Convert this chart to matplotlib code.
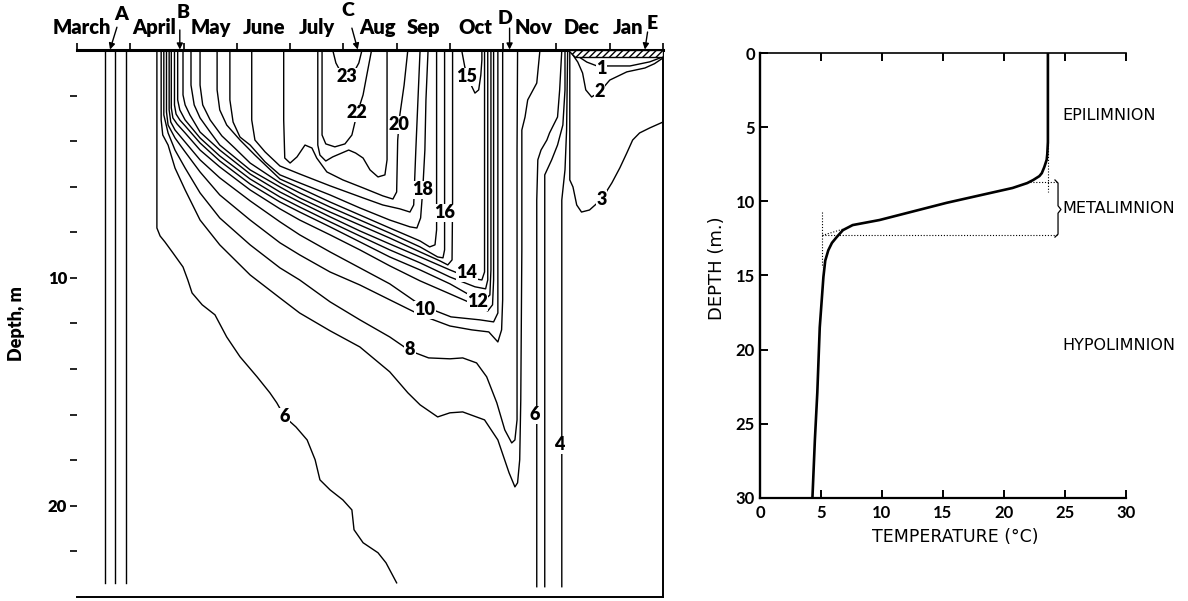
import matplotlib
matplotlib.use("Agg")
import matplotlib.pyplot as plt

plt.rcParams['font.family'] = ['Lato', 'DejaVu Sans']

# ---------------- left panel: isotherms (months after 1 March, depth m) ----------------
month_names = ["March", "April", "May", "June", "July", "Aug", "Sep", "Oct", "Nov", "Dec", "Jan"]
month_label_pos = [0.09, 1.44, 2.51, 3.51, 4.50, 5.65, 6.51, 7.47, 8.57, 9.47, 10.34]

# spring overturn, vertical isotherms
spring_months = [0.53, 0.71, 0.92]
spring_bottom = 23.4

iso6_m = [1.50, 1.50, 1.56, 1.65, 1.80, 1.99, 2.08, 2.16, 2.35, 2.59, 2.81, 3.06, 3.38, 3.62,
          3.75, 3.90, 4.11, 4.32, 4.47, 4.56, 4.75, 4.99, 5.16, 5.20, 5.37, 5.65, 5.80, 6.00]
iso6_d = [0, 7.81, 8.16, 8.42, 8.90, 9.52, 10.09, 10.66, 11.18, 11.62, 12.59, 13.46, 14.34, 15.04,
          15.48, 16.10, 16.54, 17.11, 17.98, 18.86, 19.30, 19.74, 20.18, 21.05, 21.62, 22.06, 22.50, 23.38]

iso7_m = [1.58, 1.58, 1.61, 1.71, 1.84, 2.03, 2.31, 2.68, 3.25, 3.81, 4.18, 4.75, 5.31, 5.87, 6.21, 6.44,
          6.77, 7.00, 7.24, 7.65, 7.90, 8.11, 8.22, 8.27, 8.31, 8.33, 8.35, 8.35, 8.41, 8.46, 8.63, 8.69]
iso7_d = [0, 3.07, 3.73, 4.17, 5.18, 6.14, 7.46, 8.55, 9.87, 10.88, 11.54, 12.32, 13.03, 14.12, 15.04, 15.57,
          16.10, 15.92, 15.88, 16.23, 17.11, 18.55, 19.17, 18.99, 17.98, 15.35, 8.77, 3.51, 2.94, 2.19, 1.45, 0]

iso8_m = [1.63, 1.63, 1.71, 1.84, 2.03, 2.31, 2.68, 3.25, 3.81, 4.18, 4.75, 5.31, 5.87, 6.25,
          6.60, 7.00, 7.24, 7.50, 7.69, 7.88, 8.03, 8.16, 8.22, 8.26, 8.26, 8.26, 8.27]
iso8_d = [0, 2.85, 3.64, 4.39, 5.18, 6.27, 7.37, 8.55, 9.56, 10.09, 11.05, 11.84, 12.59, 13.20,
          13.51, 13.55, 13.51, 13.73, 14.34, 15.48, 16.67, 17.24, 17.11, 16.23, 10.96, 4.39, 0]

iso9_m = [1.68, 1.68, 1.71, 1.84, 2.03, 2.31, 2.68, 3.25, 3.81, 4.18, 4.75, 5.31, 5.87, 6.44,
          7.00, 7.41, 7.73, 7.90, 7.97, 7.99, 7.99, 7.99]
iso9_d = [0, 2.72, 3.29, 3.86, 4.47, 5.35, 6.36, 7.46, 8.46, 8.99, 9.74, 10.31, 10.96, 11.62,
          12.11, 12.28, 12.37, 12.81, 12.28, 10.96, 6.58, 0]

iso10_m = [1.73, 1.73, 1.76, 1.84, 2.03, 2.31, 2.68, 3.25, 3.81, 4.18, 4.75, 5.31, 5.87, 6.44,
           7.02, 7.56, 7.82, 7.90, 7.90, 7.90]
iso10_d = [0, 2.63, 3.16, 3.51, 4.04, 4.82, 5.61, 6.62, 7.54, 8.11, 8.86, 9.56, 10.26, 11.18,
           11.71, 11.84, 11.93, 11.54, 8.77, 0]

iso11_m = [1.77, 1.77, 1.80, 1.88, 2.03, 2.31, 2.68, 3.25, 3.81, 4.18, 4.75, 5.31, 5.87, 6.44,
           7.00, 7.47, 7.71, 7.80, 7.82, 7.82]
iso11_d = [0, 2.54, 2.98, 3.25, 3.64, 4.39, 5.13, 6.14, 6.97, 7.46, 8.11, 8.77, 9.47, 10.13,
           10.70, 11.18, 11.45, 11.18, 10.09, 0]

iso12_m = [1.83, 1.83, 1.86, 1.93, 2.03, 2.31, 2.68, 3.25, 3.81, 4.18, 4.75, 5.31, 5.87, 6.44,
           7.00, 7.37, 7.65, 7.75, 7.77, 7.77]
iso12_d = [0, 2.41, 2.81, 3.07, 3.33, 4.08, 4.87, 5.88, 6.67, 7.11, 7.76, 8.42, 9.08, 9.65,
           10.26, 10.75, 10.96, 10.75, 9.65, 0]

iso13_m = [1.89, 1.89, 1.93, 2.03, 2.31, 2.68, 3.25, 3.81, 4.18, 4.75, 5.31, 5.87, 6.44, 7.00,
           7.47, 7.67, 7.71, 7.71]
iso13_d = [0, 2.19, 2.63, 3.07, 3.86, 4.65, 5.66, 6.45, 6.89, 7.54, 8.16, 8.77, 9.34, 9.96,
           10.39, 10.48, 10.09, 0]

iso14_m = [1.99, 1.99, 2.03, 2.12, 2.31, 2.68, 3.25, 3.81, 4.18, 4.75, 5.31, 5.87, 6.44, 7.00,
           7.37, 7.60, 7.65, 7.65]
iso14_d = [0, 1.97, 2.41, 2.85, 3.60, 4.39, 5.44, 6.23, 6.67, 7.32, 7.94, 8.51, 9.08, 9.65,
           10.0, 10.09, 9.74, 0]

iso15_m = [2.14, 2.14, 2.20, 2.31, 2.50, 2.68, 3.25, 3.81, 4.18, 4.75, 5.31, 5.87, 6.44, 6.81,
           6.96, 7.04, 7.05, 7.05]
iso15_d = [0, 1.54, 2.41, 2.98, 3.60, 4.17, 5.26, 6.01, 6.49, 7.11, 7.68, 8.25, 8.86, 9.25,
           9.43, 9.21, 6.58, 0]

iso16_m = [2.31, 2.31, 2.36, 2.50, 2.72, 2.96, 3.25, 3.81, 4.18, 4.75, 5.31, 5.87, 6.44, 6.77,
           6.87, 6.90, 6.90]
iso16_d = [0, 1.54, 2.41, 3.07, 3.77, 4.30, 4.96, 5.83, 6.27, 6.89, 7.46, 8.03, 8.64, 9.08,
           9.12, 8.77, 0]

iso17_m = [2.63, 2.63, 2.68, 2.81, 3.06, 3.34, 3.81, 4.18, 4.75, 5.31, 5.87, 6.44, 6.62, 6.72, 6.75, 6.75]
iso17_d = [0, 1.75, 2.63, 3.29, 3.95, 4.61, 5.66, 6.05, 6.67, 7.24, 7.81, 8.38, 8.64, 8.55, 7.89, 0]

iso18_m = [2.87, 2.87, 2.93, 3.06, 3.25, 3.53, 3.81, 4.18, 4.75, 5.31, 5.87, 6.25, 6.38, 6.45,
           6.49, 6.53, 6.55, 6.59]
iso18_d = [0, 2.19, 3.16, 3.82, 4.17, 4.91, 5.48, 5.83, 6.36, 6.93, 7.46, 7.76, 7.81, 7.37,
           6.14, 4.39, 2.19, 0]

iso19_m = [3.28, 3.28, 3.34, 3.53, 3.81, 4.18, 4.75, 5.37, 5.74, 6.06, 6.25, 6.32, 6.36, 6.40, 6.44]
iso19_d = [0, 3.07, 3.95, 4.47, 5.09, 5.44, 5.96, 6.49, 6.80, 6.97, 7.11, 6.80, 4.39, 2.19, 0]

iso20_m = [3.88, 3.88, 3.90, 4.00, 4.13, 4.28, 4.41, 4.50, 4.69, 4.99, 5.37, 5.74, 5.93, 6.00,
           6.02, 6.06, 6.14, 6.21]
iso20_d = [0, 3.07, 4.74, 4.96, 4.69, 4.17, 4.30, 4.74, 5.35, 5.70, 6.05, 6.40, 6.54, 6.23,
           3.95, 2.85, 1.54, 0]

iso21_m = [4.52, 4.52, 4.56, 4.67, 4.80, 4.97, 5.10, 5.23, 5.37, 5.50, 5.65, 5.78, 5.82, 5.82]
iso21_d = [0, 4.17, 4.61, 4.87, 4.69, 4.52, 4.39, 4.52, 4.74, 5.26, 5.57, 5.48, 4.82, 0]

iso22_m = [4.60, 4.60, 4.67, 4.84, 5.03, 5.16, 5.25, 5.37, 5.44, 5.53]
iso22_d = [0, 3.73, 4.12, 4.25, 4.12, 3.73, 2.85, 1.97, 1.10, 0]

iso23_m = [4.80, 4.86, 4.95, 5.07, 5.20, 5.29, 5.35]
iso23_d = [0, 0.57, 0.96, 1.14, 0.96, 0.57, 0]

patch15_m = [7.22, 7.28, 7.37, 7.47, 7.54, 7.58, 7.60, 7.60]
patch15_d = [0, 0.75, 1.40, 1.89, 1.75, 1.10, 0.44, 0]

# autumn overturn
fall6_m = [8.63, 8.63, 8.65, 8.71, 8.82, 8.87, 9.02, 9.06, 9.10]
fall6_d = [23.55, 6.58, 4.82, 4.39, 3.95, 3.64, 2.94, 1.75, 0]
fall5_m = [8.78, 8.78, 8.91, 9.02, 9.12, 9.16, 9.16]
fall5_d = [23.55, 5.48, 4.82, 4.17, 3.29, 1.75, 0]
fall4_m = [9.10, 9.10, 9.16, 9.19, 9.21]
fall4_d = [23.55, 6.58, 5.26, 3.51, 0]

# winter
iso3_m = [9.25, 9.25, 9.31, 9.38, 9.47, 9.62, 9.85, 10.04, 10.19, 10.32, 10.43, 10.56, 10.75, 11.0]
iso3_d = [0, 5.70, 6.01, 6.80, 7.11, 7.02, 6.54, 5.83, 5.17, 4.52, 3.95, 3.64, 3.42, 3.16]
iso2_m = [9.27, 9.40, 9.49, 9.55, 9.66, 9.81, 10.0, 10.32, 10.66, 10.84, 11.0]
iso2_d = [0.09, 0.53, 1.01, 1.75, 2.06, 1.84, 1.32, 0.96, 0.79, 0.60, 0.35]
iso1_m = [9.31, 9.57, 9.76, 10.0, 10.38, 10.75, 11.0]
iso1_d = [0.13, 0.53, 0.70, 0.70, 0.70, 0.52, 0.30]

ice_m = [9.22, 11.0, 11.0, 9.35]
ice_d = [0, 0, 0.30, 0.30]

label_text = ["23", "22", "20", "18", "16", "15", "14", "12", "10", "8", "6", "6", "4", "3", "2", "1"]
label_m = [5.07, 5.25, 6.04, 6.49, 6.90, 7.32, 7.32, 7.52, 6.53, 6.25, 3.90, 8.59, 9.06, 9.85, 9.81, 9.85]
label_d = [1.18, 2.76, 3.29, 6.14, 7.15, 1.18, 9.78, 11.05, 11.40, 13.16, 16.10, 16.01, 17.32, 6.54, 1.84, 0.79]

marker_names = ["A", "B", "C", "D", "E"]
marker_head = [0.62, 1.93, 5.27, 8.12, 10.66]

# ---------------- right panel: temperature profile ----------------
profile_temp = [23.6, 23.6, 23.55, 23.5, 23.3, 23.1, 22.9, 22.4, 21.9, 20.7, 15.3, 9.8, 7.6,
                6.8, 6.3, 5.9, 5.6, 5.35, 5.2, 4.9, 4.7, 4.5, 4.3]
profile_depth = [0, 6.0, 6.8, 7.2, 7.7, 8.1, 8.3, 8.56, 8.77, 9.1, 10.1, 11.26, 11.6,
                 11.94, 12.4, 12.8, 13.3, 14.0, 15.1, 18.5, 22.9, 26.1, 30]
layer_names = ["EPILIMNION", "METALIMNION", "HYPOLIMNION"]
layer_depth = [4.2, 10.45, 19.7]

fig = plt.figure(figsize=(11.88, 6.01), dpi=100)

# ---------- left ----------
ax = fig.add_axes([0.0648, 0.0067, 0.4933, 0.9101])
ax.set_xlim(0, 11)
ax.set_ylim(24, 0)

lw = 1.0
for m in spring_months:
    ax.plot([m, m], [0, spring_bottom], color='k', lw=lw)

isotherms = [(iso6_m, iso6_d), (iso7_m, iso7_d), (iso8_m, iso8_d), (iso9_m, iso9_d),
             (iso10_m, iso10_d), (iso11_m, iso11_d), (iso12_m, iso12_d), (iso13_m, iso13_d),
             (iso14_m, iso14_d), (iso15_m, iso15_d), (iso16_m, iso16_d), (iso17_m, iso17_d),
             (iso18_m, iso18_d), (iso19_m, iso19_d), (iso20_m, iso20_d), (iso21_m, iso21_d),
             (iso22_m, iso22_d), (iso23_m, iso23_d), (patch15_m, patch15_d),
             (fall6_m, fall6_d), (fall5_m, fall5_d), (fall4_m, fall4_d),
             (iso3_m, iso3_d), (iso2_m, iso2_d), (iso1_m, iso1_d)]
for xs, ys in isotherms:
    ax.plot(xs, ys, color='k', lw=lw, solid_joinstyle='round')

plt.rcParams['hatch.linewidth'] = 1.0
ax.fill(ice_m, ice_d, facecolor='white', edgecolor='k', hatch='/////', lw=1.0, zorder=3)

for t, xm, yd in zip(label_text, label_m, label_d):
    ax.text(xm, yd, t, ha='center', va='center', fontsize=13, fontweight='heavy', zorder=4,
            bbox=dict(facecolor='white', edgecolor='none', pad=0.3))

# month labels and markers above the surface line
for name, xm in zip(month_names, month_label_pos):
    ax.text(xm, -0.72, name, ha='center', va='baseline', fontsize=14.5, fontweight='heavy')

tail_dx = [0.13, 0.0, -0.11, 0.0, 0.05]
tail_y = [-1.0, -0.88, -0.96, -0.96, -0.79]
letter_dx = [0.21, 0.06, -0.19, -0.09, 0.13]
letter_y = [-1.54, -1.64, -1.75, -1.38, -1.16]
for i, name in enumerate(marker_names):
    h = marker_head[i]
    ax.annotate('', xy=(h, -0.02), xytext=(h + tail_dx[i], tail_y[i]), annotation_clip=False,
                arrowprops=dict(arrowstyle='-|>', color='k', lw=1.0, mutation_scale=9,
                                shrinkA=0, shrinkB=0))
    ax.text(h + letter_dx[i], letter_y[i], name, ha='center', va='center', fontsize=14,
            fontweight='heavy')

ax.spines['left'].set_visible(False)
ax.spines['top'].set_linewidth(2.2)
ax.spines['right'].set_linewidth(1.4)
ax.spines['bottom'].set_linewidth(1.4)
ax.set_xticks(range(12))
ax.tick_params(axis='x', top=True, bottom=False, labeltop=False, labelbottom=False,
               direction='out', length=5, width=1.2)
ax.set_yticks(range(2, 24, 2))
ax.set_yticklabels(['10' if v == 10 else '20' if v == 20 else '' for v in range(2, 24, 2)])
ax.tick_params(axis='y', direction='out', length=5, width=1.2, labelsize=12, pad=2)
for lab in ax.get_yticklabels():
    lab.set_fontweight('heavy')
ax.text(-0.103, 0.5, 'Depth, m', transform=ax.transAxes, rotation=90, ha='center',
        va='center', fontsize=13, fontweight='heavy')

# ---------- right ----------
ax2 = fig.add_axes([0.6397, 0.1714, 0.3081, 0.7404])
ax2.set_xlim(0, 30)
ax2.set_ylim(30, 0)
ax2.plot(profile_temp, profile_depth, color='k', lw=1.9, solid_joinstyle='round')

dot = dict(color='k', lw=0.8, linestyle=(0, (1, 1.6)))
ax2.plot([23.6, 23.6], [6.0, 9.35], **dot)
ax2.plot([22.1, 24.35], [8.7, 8.7], **dot)
ax2.plot([5.1, 24.35], [12.3, 12.3], **dot)
ax2.plot([5.1, 5.1], [10.75, 14.45], **dot)
ax2.plot([5.1, 7.1], [12.3, 11.8], **dot)

ax2.plot([24.18, 24.43, 24.43, 24.67, 24.43, 24.43, 24.18],
         [8.56, 8.77, 10.3, 10.55, 10.8, 12.21, 12.41], color='k', lw=0.9)

for name, yd in zip(layer_names, layer_depth):
    ax2.text(24.8, yd, name, ha='left', va='center', fontsize=11.5,
             family=['DejaVu Sans'], fontweight='normal')

ax2.spines['right'].set_visible(False)
ax2.spines['left'].set_linewidth(1.7)
ax2.spines['bottom'].set_linewidth(1.6)
ax2.spines['top'].set_linewidth(1.2)
ax2.set_xticks(range(0, 31, 5))
ax2.set_yticks(range(0, 31, 5))
ax2.tick_params(axis='both', direction='in', length=6, width=1.4, labelsize=12)
ax2.tick_params(axis='x', top=True, pad=5)
for lab in ax2.get_xticklabels() + ax2.get_yticklabels():
    lab.set_fontweight('bold')
ax2.text(0.533, -0.088, 'TEMPERATURE (°C)', transform=ax2.transAxes, ha='center', va='center',
         fontsize=12.5, family=['DejaVu Sans'])
ax2.text(-0.117, 0.517, 'DEPTH (m.)', transform=ax2.transAxes, ha='center', va='center',
         rotation=90, fontsize=13, family=['DejaVu Sans'])

fig.savefig('out.png', dpi=100)
